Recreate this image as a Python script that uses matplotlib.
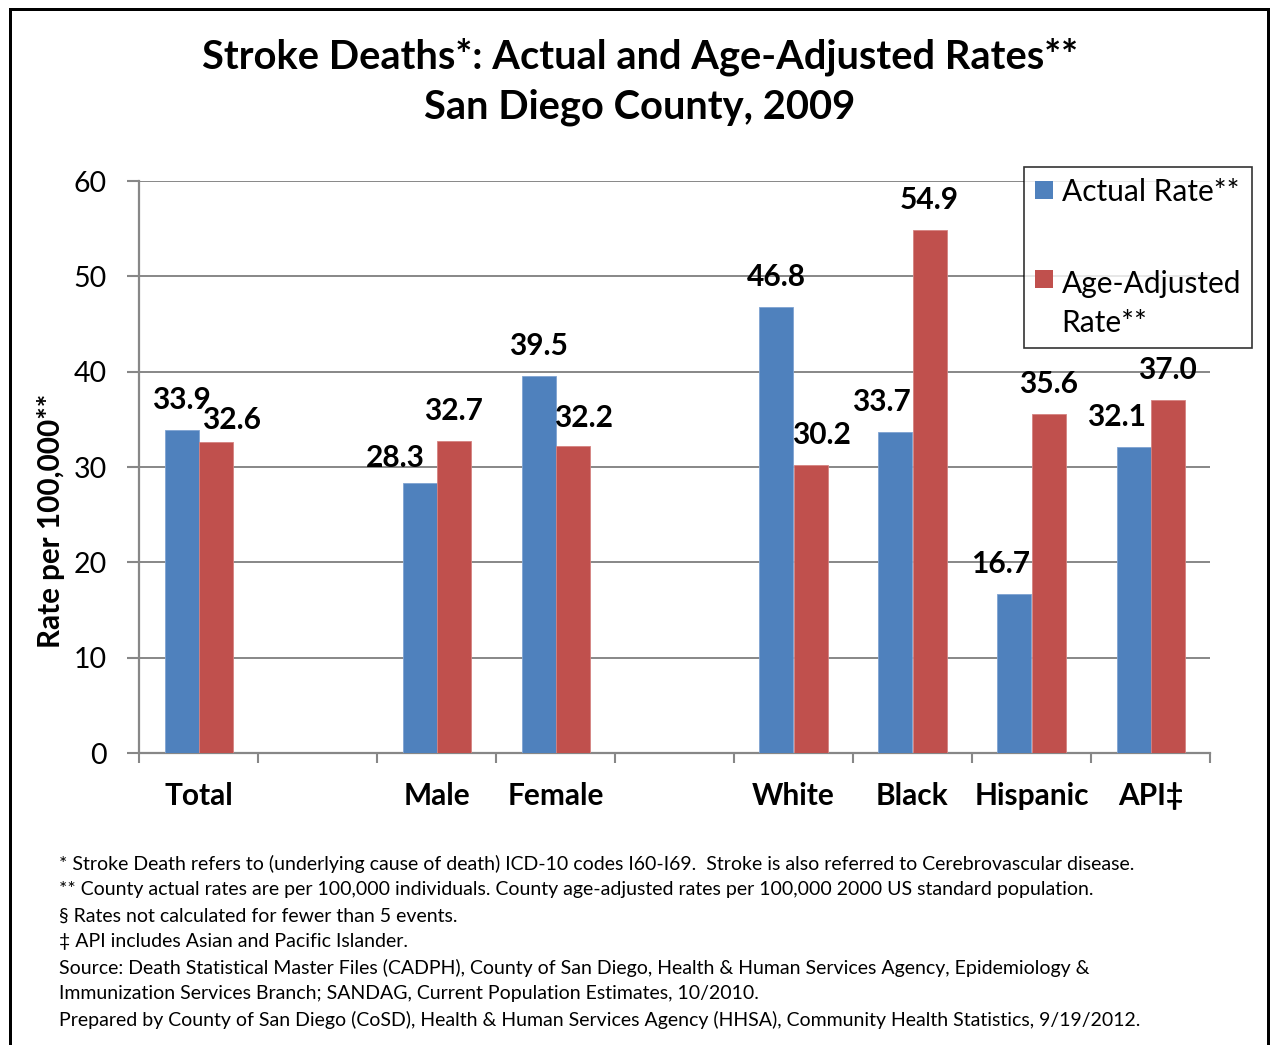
import matplotlib
matplotlib.use("Agg")
import matplotlib.pyplot as plt
import numpy as np
from matplotlib.patches import Rectangle, Patch
from matplotlib.legend_handler import HandlerPatch

# ---- data ----
categories = ["Total", "", "Male", "Female", "", "White", "Black", "Hispanic", "API‡"]
actual_rate = [33.9, np.nan, 28.3, 39.5, np.nan, 46.8, 33.7, 16.7, 32.1]
age_adjusted_rate = [32.6, np.nan, 32.7, 32.2, np.nan, 30.2, 54.9, 35.6, 37.0]
y_ticks = [0, 10, 20, 30, 40, 50, 60]

title_lines = ["Stroke Deaths*: Actual and Age-Adjusted Rates**",
               "San Diego County, 2009"]
y_label = "Rate per 100,000**"
series_names = ["Actual Rate**", "Age-Adjusted\nRate**"]
footnotes = [
    "* Stroke Death refers to (underlying cause of death) ICD-10 codes I60-I69.  Stroke is also referred to Cerebrovascular disease.",
    "** County actual rates are per 100,000 individuals. County age-adjusted rates per 100,000 2000 US standard population.",
    "§ Rates not calculated for fewer than 5 events.",
    "‡ API includes Asian and Pacific Islander.",
    "Source: Death Statistical Master Files (CADPH), County of San Diego, Health & Human Services Agency, Epidemiology &",
    "Immunization Services Branch; SANDAG, Current Population Estimates, 10/2010.",
    "Prepared by County of San Diego (CoSD), Health & Human Services Agency (HHSA), Community Health Statistics, 9/19/2012.",
]

# label nudges (pixels: dx, dy) so overlapping value labels stay readable
actual_nudge = [(0, 0), (0, 0), (-24, -5), (0, 0), (0, 0), (0, 0), (-14, 0), (-14, 0), (-17, 0)]
adjusted_nudge = [(16, -8), (0, 0), (0, 0), (11, -2), (0, 0), (11, 0), (0, 0), (0, 0), (0, 0)]

# ---- style ----
BLUE = "#4F81BD"
RED = "#C0504D"
GRID = "#878787"
W, H = 1270, 1045
DPI = 100
PX = 72.0 / DPI  # points per pixel

plt.rcParams["font.family"] = ["Lato", "DejaVu Sans"]

fig = plt.figure(figsize=(W / DPI, H / DPI), dpi=DPI)
fig.patch.set_facecolor("white")

ax = fig.add_axes([139 / W, 1 - 753 / H, (1210 - 139) / W, (753 - 181) / H])

x = np.arange(len(categories))
bw = 1 / 3.5
mask = ~np.isnan(np.array(actual_rate))
xa = x[mask] - bw / 2
xr = x[mask] + bw / 2
va = np.array(actual_rate)[mask]
vr = np.array(age_adjusted_rate)[mask]

ax.bar(xa, va, width=bw, color=BLUE, edgecolor="#7fa3d2", linewidth=0.6, zorder=3)
ax.bar(xr, vr, width=bw, color=RED, edgecolor="#d58280", linewidth=0.6, zorder=3)

ax.set_xlim(-0.5, len(categories) - 0.5)
ax.set_ylim(0, 60)
ax.set_yticks(y_ticks)
ax.set_yticklabels([str(t) for t in y_ticks], fontsize=20.5)
ax.set_xticks(x)
ax.set_xticklabels(categories, fontsize=21.5, fontweight="bold")
ax.set_xticks(np.arange(len(categories) + 1) - 0.5, minor=True)
ax.tick_params(axis="x", which="major", length=0, pad=21)
ax.tick_params(axis="x", which="minor", length=7, width=1.5, color=GRID, direction="out")
ax.tick_params(axis="y", which="major", length=9, width=1.5, color=GRID, pad=14)

ax.yaxis.grid(True, color=GRID, linewidth=1.4, zorder=0)
ax.set_axisbelow(True)
for s in ["top", "right"]:
    ax.spines[s].set_visible(False)
for s in ["left", "bottom"]:
    ax.spines[s].set_color(GRID)
    ax.spines[s].set_linewidth(1.6)

# value labels
def add_labels(xs, vals, nudges):
    for xi, v, (dx, dy) in zip(xs, vals, nudges):
        ax.annotate(f"{v:.1f}", xy=(xi, v), xytext=(dx * PX, (30 + dy) * PX),
                    textcoords="offset points", ha="center", va="center",
                    fontsize=21.5, fontweight="bold", zorder=5)

add_labels(xa, va, [n for n, m in zip(actual_nudge, mask) if m])
add_labels(xr, vr, [n for n, m in zip(adjusted_nudge, mask) if m])

# legend, with the swatch level with the first text line
SW = 13.0  # swatch side, points

def raised_patch(shift_px):
    def make(legend, orig_handle, xdescent, ydescent, width, height, fontsize):
        return Rectangle((-xdescent, -ydescent + shift_px * PX + (height - SW) / 2), SW, SW)
    return make

h1 = Patch(facecolor=BLUE, edgecolor="none")
h2 = Patch(facecolor=RED, edgecolor="none")
leg = ax.legend([h1, h2], series_names, loc="upper left",
                bbox_to_anchor=(1024 / W, 1 - 167 / H), bbox_transform=fig.transFigure,
                fontsize=21.5, frameon=True, fancybox=False, borderpad=0.36,
                labelspacing=2.15, handlelength=0.6, handleheight=0.6,
                handletextpad=0.3, borderaxespad=0,
                handler_map={h1: HandlerPatch(patch_func=raised_patch(0)),
                             h2: HandlerPatch(patch_func=raised_patch(25))})
leg.get_texts()[1].set_linespacing(1.47)
leg.get_frame().set_edgecolor("black")
leg.get_frame().set_linewidth(1.2)
leg.set_zorder(6)

# titles and axis label
fig.text(640 / W, 1 - 57 / H, title_lines[0], ha="center", va="center",
         fontsize=28.7, fontweight="bold")
fig.text(640 / W, 1 - 107 / H, title_lines[1], ha="center", va="center",
         fontsize=28.7, fontweight="bold")
fig.text(51 / W, 1 - 521 / H, y_label, rotation=90, ha="center", va="center",
         fontsize=21.3, fontweight="bold")

for i, line in enumerate(footnotes):
    fig.text(59 / W, 1 - (864 + 26 * i) / H, line, ha="left", va="center", fontsize=14.05)

# outer frame
fig.add_artist(Rectangle((9.5 / W, -0.02), (1267.5 - 9.5) / W, 1 - 8.5 / H + 0.02,
                         transform=fig.transFigure, fill=False, edgecolor="black",
                         linewidth=3 * PX, clip_on=False))

fig.savefig("out.png", dpi=DPI, facecolor="white")
